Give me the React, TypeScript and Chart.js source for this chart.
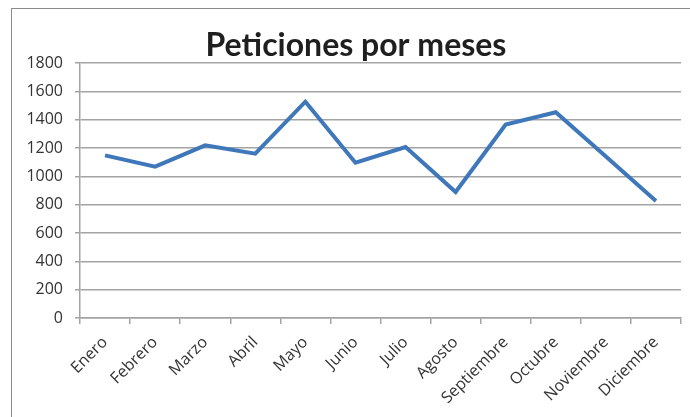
import React, { useEffect, useRef } from "react";
import { Chart, registerables } from "chart.js";

Chart.register(...registerables);

const categories = [
  "Enero", "Febrero", "Marzo", "Abril", "Mayo", "Junio",
  "Julio", "Agosto", "Septiembre", "Octubre", "Noviembre", "Diciembre",
];
const peticiones = [1148, 1068, 1219, 1160, 1527, 1096, 1207, 889, 1365, 1452, 1140, 826];
const titleText = "Peticiones por meses";
const yMin = 0;
const yMax = 1800;
const yStep = 200;

const gridColor = "#a3a3a3";
const labelColor = "#333333";
const lineColor = "#3f77bb";

export default function App() {
  const canvasRef = useRef<HTMLCanvasElement | null>(null);

  useEffect(() => {
    const canvas = canvasRef.current;
    if (!canvas) return;

    const framePlugin = {
      id: "frame",
      beforeDraw(chart: any) {
        const ctx = chart.ctx;
        ctx.save();
        ctx.fillStyle = "#ffffff";
        ctx.fillRect(0, 0, chart.width, chart.height);
        ctx.strokeStyle = "#8c8c8c";
        ctx.lineWidth = 1;
        ctx.strokeRect(11.5, 8.5, 900, 700);
        ctx.restore();
      },
      afterDraw(chart: any) {
        const ctx = chart.ctx;
        ctx.save();
        ctx.font = "bold 32px Lato, 'Open Sans', sans-serif";
        ctx.fillStyle = "#1f1f1f";
        ctx.textAlign = "center";
        ctx.textBaseline = "alphabetic";
        ctx.fillText(titleText, 356, 56);
        ctx.restore();
      },
    };

    const chart = new Chart(canvas, {
      type: "line",
      data: {
        labels: categories,
        datasets: [
          {
            label: titleText,
            data: peticiones,
            borderColor: lineColor,
            backgroundColor: lineColor,
            borderWidth: 4,
            pointRadius: 0,
            pointHoverRadius: 0,
            tension: 0,
            fill: false,
          },
        ],
      },
      options: {
        animation: false,
        responsive: false,
        maintainAspectRatio: false,
        layout: { padding: { top: 63, right: 9, left: 0, bottom: 0 } },
        plugins: {
          legend: { display: false },
          title: { display: false },
          tooltip: { enabled: false },
        },
        scales: {
          x: {
            offset: true,
            afterFit(scale: any) {
              scale.height = 99;
            },
            grid: {
              offset: true,
              drawOnChartArea: false,
              drawTicks: true,
              tickLength: 6,
              color: gridColor,
              lineWidth: 1.5,
            },
            border: { display: true, color: gridColor, width: 1.5 },
            ticks: {
              autoSkip: false,
              maxRotation: 45,
              minRotation: 45,
              padding: 9,
              color: labelColor,
              font: { family: "'Open Sans', sans-serif", size: 16 },
            },
          },
          y: {
            min: yMin,
            max: yMax,
            afterFit(scale: any) {
              scale.width = 80;
            },
            grid: {
              color: gridColor,
              lineWidth: 1.5,
              drawTicks: true,
              tickLength: 5,
            },
            border: { display: true, color: gridColor, width: 1.5 },
            ticks: {
              stepSize: yStep,
              padding: 12,
              color: labelColor,
              font: { family: "'Open Sans', sans-serif", size: 16 },
              callback: (value: any) => String(value),
            },
          },
        },
      },
      plugins: [framePlugin],
    });

    return () => chart.destroy();
  }, []);

  return (
    <div style={{ position: "absolute", left: 0, top: 0, width: 690, height: 417 }}>
      <canvas ref={canvasRef} width={690} height={417} style={{ width: 690, height: 417 }} />
    </div>
  );
}
